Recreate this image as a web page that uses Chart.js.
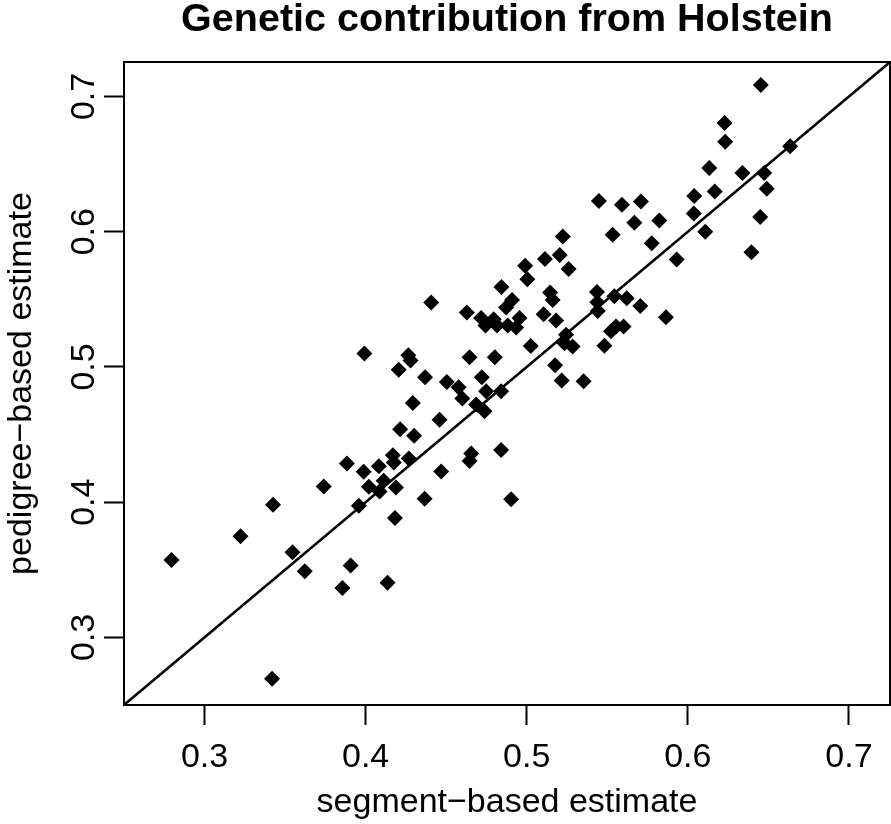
<!DOCTYPE html>
<html>
<head>
<meta charset="utf-8">
<title>Genetic contribution from Holstein</title>
<script src="https://cdn.jsdelivr.net/npm/chart.js@4"></script>
<style>
  body { margin: 0; background: #fff; }
  #wrap { width: 891px; height: 824px; }
</style>
</head>
<body>
<div id="wrap"><canvas id="holsteinChart" width="891" height="824"></canvas></div>
<script>
// segment-based estimate (x) and pedigree-based estimate (y)
const segmentEst = [
  0.2795, 0.3223, 0.3425, 0.3419, 0.3546, 0.3622, 0.3740, 0.3856, 0.3884, 0.3907,
  0.3958, 0.3992, 0.3988, 0.4020, 0.4082, 0.4112, 0.4087, 0.4136, 0.4188, 0.4182,
  0.4169, 0.4175, 0.4268, 0.4214, 0.4301, 0.4293, 0.4366, 0.4459, 0.4469, 0.4205,
  0.4265, 0.4279, 0.4369, 0.4407, 0.4504, 0.4577, 0.4600, 0.4645, 0.4628, 0.4655,
  0.4645, 0.4686, 0.4738, 0.4721, 0.4748, 0.4841, 0.4802, 0.4841, 0.4903, 0.4717,
  0.4744, 0.4795, 0.4816, 0.4872, 0.4909, 0.4882, 0.4934, 0.4955, 0.4843, 0.4990,
  0.5004, 0.5113, 0.5205, 0.5260, 0.5224, 0.5145, 0.5161, 0.5105, 0.5182, 0.5244,
  0.5234, 0.5285, 0.5025, 0.5176, 0.5217, 0.5353, 0.5436, 0.5438, 0.5441, 0.5448,
  0.5482, 0.5523, 0.5554, 0.5601, 0.5544, 0.5621, 0.5705, 0.5533, 0.5591, 0.5709,
  0.5668, 0.5823, 0.5776, 0.5864, 0.5931, 0.6040, 0.6037, 0.6167, 0.6108, 0.6133,
  0.6228, 0.6232, 0.6339, 0.6453, 0.6474, 0.6490, 0.6449, 0.6395, 0.6635
];
const pedigreeEst = [
  0.3573, 0.3748, 0.3981, 0.2694, 0.3630, 0.3490, 0.4116, 0.3365, 0.4285, 0.3532,
  0.3974, 0.5100, 0.4224, 0.4114, 0.4265, 0.4158, 0.4079, 0.3404, 0.4108, 0.3882,
  0.4346, 0.4293, 0.4322, 0.4539, 0.4491, 0.4734, 0.4025, 0.4609, 0.4226, 0.4980,
  0.5086, 0.5048, 0.4924, 0.5476, 0.4889, 0.4850, 0.4766, 0.5071, 0.5403, 0.4359,
  0.4305, 0.4722, 0.4673, 0.4924, 0.4821, 0.4821, 0.5071, 0.4386, 0.4022, 0.5361,
  0.5307, 0.5353, 0.5307, 0.5439, 0.5495, 0.5307, 0.5292, 0.5361, 0.5591, 0.5749,
  0.5648, 0.5799, 0.5827, 0.5725, 0.5964, 0.5550, 0.5495, 0.5390, 0.5344, 0.5238,
  0.5176, 0.5152, 0.5154, 0.5012, 0.4899, 0.4894, 0.5554, 0.5478, 0.5414, 0.6227,
  0.5157, 0.5263, 0.5299, 0.5299, 0.5523, 0.5508, 0.5451, 0.5977, 0.6200, 0.6224,
  0.6066, 0.6082, 0.5915, 0.5368, 0.5795, 0.6264, 0.6134, 0.6298, 0.5999, 0.6471,
  0.6804, 0.6666, 0.6434, 0.7084, 0.6434, 0.6318, 0.6108, 0.5848, 0.6632
];
const tickVals = [0.3, 0.4, 0.5, 0.6, 0.7];
// both axes share the same limits so y = x runs corner to corner
const axisMin = 0.2500;
const axisMax = 0.7255;
// y = x reference line
const diagLine = [0.2, 0.8];

const points = segmentEst.map((x, i) => ({ x: x, y: pedigreeEst[i] }));

// box round the plot area, like R's box()
const boxPlugin = {
  id: 'plotBox',
  afterDraw(chart) {
    const a = chart.chartArea;
    const c = chart.ctx;
    c.save();
    c.strokeStyle = '#000';
    c.lineWidth = 2;
    c.strokeRect(a.left, a.top, a.right - a.left, a.bottom - a.top);
    c.restore();
  }
};

const tickFont = { family: 'Liberation Sans, Arial, sans-serif', size: 34 };

// drop the extra room chart.js keeps for edge labels
function noEdgePad(s) {
  s.paddingLeft = 0;
  s.paddingRight = 0;
  s.paddingTop = 0;
  s.paddingBottom = 0;
}

const ctx = document.getElementById('holsteinChart').getContext('2d');
const chart = new Chart(ctx, {
  type: 'scatter',
  data: {
    datasets: [{
      data: points,
      backgroundColor: '#000',
      borderWidth: 0,
      pointStyle: 'rectRot',
      pointRadius: 8,
      pointHoverRadius: 8
    }, {
      type: 'line',
      data: diagLine.map(v => ({ x: v, y: v })),
      borderColor: '#000',
      borderWidth: 2.5,
      pointRadius: 0,
      fill: false
    }]
  },
  options: {
    responsive: false,
    devicePixelRatio: 1,
    animation: false,
    events: [],
    layout: { autoPadding: false, padding: { left: 0, right: 1, top: 0, bottom: 0 } },
    plugins: {
      legend: { display: false },
      tooltip: { enabled: false },
      title: {
        display: true,
        fullSize: false,
        text: 'Genetic contribution from Holstein',
        color: '#000',
        font: { family: 'Liberation Sans, Arial, sans-serif', size: 39.5, weight: 'bold', lineHeight: 1.0 },
        padding: { top: 0, bottom: 22.5 }
      }
    },
    scales: {
      x: {
        type: 'linear',
        min: axisMin,
        max: axisMax,
        afterBuildTicks: s => { s.ticks = tickVals.map(v => ({ value: v })); },
        afterFit: s => { s.height = 119; noEdgePad(s); },
        border: { display: false },
        grid: { drawOnChartArea: false, drawTicks: true, tickLength: 20, tickColor: '#000', tickWidth: 2 },
        ticks: { color: '#000', font: tickFont, padding: 12, maxRotation: 0, callback: v => v.toFixed(1) },
        title: {
          display: true,
          text: 'segment\u2212based estimate',
          color: '#000',
          font: tickFont,
          padding: { top: 0, bottom: 1 }
        }
      },
      y: {
        type: 'linear',
        min: axisMin,
        max: axisMax,
        afterBuildTicks: s => { s.ticks = tickVals.map(v => ({ value: v })); },
        afterFit: s => { s.width = 124; noEdgePad(s); },
        border: { display: false },
        grid: { drawOnChartArea: false, drawTicks: true, tickLength: 20, tickColor: '#000', tickWidth: 2 },
        ticks: {
          color: '#000', font: tickFont, padding: -4,
          minRotation: 90, maxRotation: 90, crossAlign: 'center',
          callback: v => v.toFixed(1)
        },
        title: {
          display: true,
          text: 'pedigree\u2212based estimate',
          color: '#000',
          font: tickFont,
          padding: { top: 1, bottom: 0 }
        }
      }
    }
  },
  plugins: [boxPlugin]
});
</script>
</body>
</html>
